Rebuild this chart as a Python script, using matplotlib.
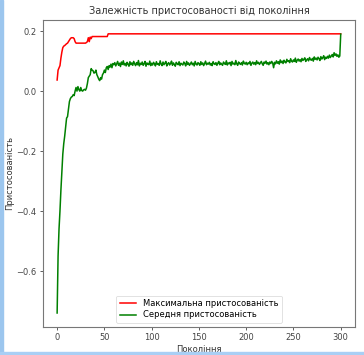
import matplotlib
matplotlib.use("Agg")
import matplotlib.pyplot as plt
from matplotlib.patches import Rectangle

# Fitness per generation of a genetic algorithm run (generations 0..300)
generations = list(range(301))

max_fitness = (
    [0.037, 0.070, 0.078, 0.085, 0.110, 0.130, 0.145, 0.150, 0.152, 0.155,
     0.158, 0.160, 0.165, 0.170, 0.175, 0.178, 0.178, 0.178, 0.175, 0.165,
     0.160, 0.160, 0.160, 0.160, 0.160, 0.160, 0.160, 0.160, 0.160, 0.160,
     0.160, 0.162, 0.165, 0.178, 0.165, 0.180, 0.175, 0.182, 0.182, 0.182,
     0.182, 0.182, 0.182, 0.182, 0.182, 0.182, 0.182, 0.182, 0.182, 0.182,
     0.182, 0.182, 0.182, 0.182]
    + [0.191] * 247
)

mean_head = [
    -0.740, -0.550, -0.460, -0.400, -0.330, -0.270, -0.210, -0.175, -0.150, -0.120,
    -0.090, -0.085, -0.060, -0.035, -0.025, -0.020, -0.018, -0.012, -0.015, 0.000,
    0.012, 0.000, 0.015, 0.005, 0.000, 0.012, 0.002, 0.000, 0.004, 0.006,
    0.003, 0.010, 0.025, 0.045, 0.050, 0.055, 0.075, 0.070, 0.068, 0.060,
    0.062, 0.070, 0.055, 0.048, 0.040, 0.035, 0.045, 0.040, 0.055, 0.060,
    0.070, 0.062, 0.078, 0.082, 0.072, 0.085, 0.080, 0.090, 0.078, 0.092,
]
mean_tail_milli = [
    88, 95, 84, 91, 99, 86, 93, 82, 97, 89, 101, 87, 92, 84, 96, 90, 83, 98, 88, 94,
    86, 99, 91, 85, 95, 88, 102, 84, 93, 89, 97, 86, 91, 99, 83, 94, 90, 88, 100, 85,
    93, 87, 96, 91, 84, 98, 89, 92, 86, 101, 90, 85, 97, 88, 93, 99, 84, 91, 95, 87,
    92, 100, 86, 94, 89, 83, 96, 91, 88, 98, 85, 93, 90, 87, 97, 92, 84, 99, 89, 94,
    86, 91, 97, 88, 93, 84, 99, 90, 87, 95, 91, 86, 98, 89, 94, 85, 92, 100, 88, 93,
    90, 96, 87, 92, 85, 98, 91, 89, 95, 86, 93, 99, 88, 94, 90, 86, 97, 92, 89, 101,
    87, 94, 91, 96, 85, 99, 90, 93, 88, 102, 91, 86, 97, 92, 89, 95, 87, 100, 93, 90,
    96, 88, 94, 91, 99, 86, 93, 97, 90, 95, 88, 101, 92, 96, 89, 94, 99, 91, 86, 97,
    93, 100, 90, 95, 88, 97, 92, 99, 94, 78, 96, 91, 101, 93, 98, 90, 104, 95, 100, 92,
    103, 97, 94, 106, 99, 101, 95, 108, 100, 97, 104, 99, 110, 96, 103, 107, 100, 105, 98, 109,
    102, 106, 111, 99, 104, 108, 101, 112, 105, 103, 109, 100, 114, 106, 110, 104, 113, 108, 102, 115,
    107, 111, 118, 105, 113, 109, 116, 110, 120, 112, 117, 122, 114, 128, 119, 124, 116, 121, 113, 117,
    190,
]
mean_fitness = mean_head + [v / 1000 for v in mean_tail_milli]

title = "Залежність пристосованості від покоління"
xlabel = "Покоління"
ylabel = "Пристосованість"
label_max = "Максимальна пристосованість"
label_mean = "Середня пристосованість"

fig = plt.figure(figsize=(3.64, 3.55), dpi=100)
ax = fig.add_axes([0.118, 0.079, 0.857, 0.865])

ax.plot(generations, max_fitness, color="red", lw=1.1, label=label_max)
ax.plot(generations, mean_fitness, color="green", lw=1.1, label=label_mean)

ax.set_title(title, fontsize=7, color="#333333", pad=4)
ax.set_xlabel(xlabel, fontsize=6, color="#333333", labelpad=2)
ax.set_ylabel(ylabel, fontsize=6, color="#333333", labelpad=2)
ax.set_xticks([0, 50, 100, 150, 200, 250, 300])
ax.set_yticks([-0.6, -0.4, -0.2, 0.0, 0.2])
ax.tick_params(labelsize=6, colors="#444444", length=2.5, width=0.6, pad=2)
for s in ax.spines.values():
    s.set_color("#777777")
    s.set_linewidth(0.8)

leg = ax.legend(loc="lower center", fontsize=6, frameon=True, borderpad=0.4,
                handlelength=2.0, labelspacing=0.3)
leg.get_frame().set_linewidth(0.5)

# Window border strips
fig.patches.append(Rectangle((0, 0), 3 / 364, 1, transform=fig.transFigure,
                             color="#9cc6ee", zorder=10))
fig.patches.append(Rectangle((0, 0), 1, 3 / 355, transform=fig.transFigure,
                             color="#a9cff5", zorder=10))

fig.savefig("out.png", dpi=100)
